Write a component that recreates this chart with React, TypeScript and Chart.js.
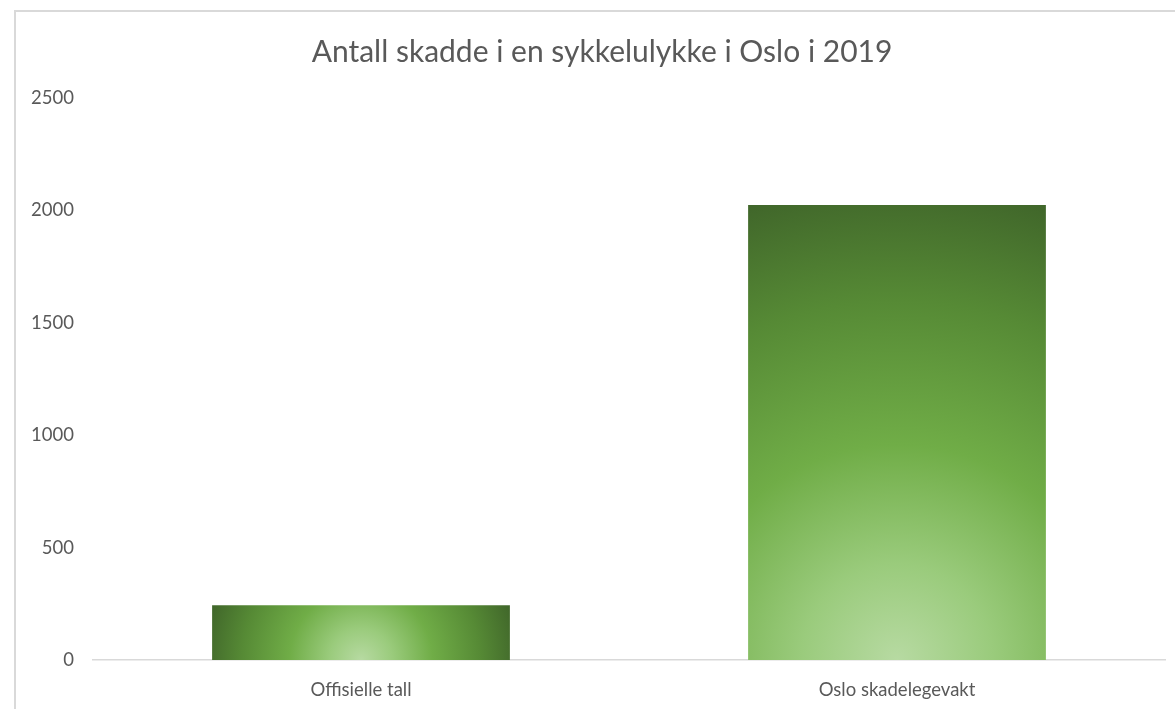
import { useEffect, useRef } from "react";
import { Chart, registerables } from "chart.js";

Chart.register(...registerables);

const chartTitle = "Antall skadde i en sykkelulykke i Oslo i 2019";
const categories = ["Offisielle tall", "Oslo skadelegevakt"];
const values = [243, 2024];
const yMin = 0;
const yMax = 2500;
const yStep = 500;

const TEXT = "#595959";
const LINE = "#d9d9d9";
const FONT = "Lato, 'Open Sans', sans-serif";
const BAR_PCT = 1 / 1.8;
const TICK_SIZE = 18.5;

function barGradient(c: any) {
  const chart = c.chart;
  const xs = chart.scales?.x;
  const ys = chart.scales?.y;
  if (!xs || !ys || c.dataIndex === undefined) return "#70ad47";
  const i = c.dataIndex;
  const v = c.raw as number;
  const cx = xs.getPixelForValue(i);
  const top = ys.getPixelForValue(v);
  const base = ys.getPixelForValue(0);
  const w = (xs.width / categories.length) * BAR_PCT;
  const h = Math.abs(base - top);
  const r = Math.sqrt((w / 2) * (w / 2) + h * h);
  if (![cx, top, base, r].every((n) => Number.isFinite(n)) || r <= 0) return "#70ad47";
  const g = chart.ctx.createRadialGradient(cx, base, 0, cx, base, r);
  g.addColorStop(0, "#b7daa2");
  g.addColorStop(0.2, "#9acb7c");
  g.addColorStop(0.45, "#70ad47");
  g.addColorStop(0.75, "#568a35");
  g.addColorStop(1, "#40662a");
  return g;
}

const titleShift = {
  id: "titleShift",
  afterLayout(chart: any) {
    const t = chart.titleBlock;
    if (t) t.left += 23;
  },
};

export default function App() {
  const ref = useRef<HTMLCanvasElement | null>(null);

  useEffect(() => {
    if (!ref.current) return;
    const chart = new Chart(ref.current, {
      type: "bar",
      data: {
        labels: categories,
        datasets: [
          {
            data: values,
            backgroundColor: barGradient,
            borderWidth: 0,
            categoryPercentage: 1,
            barPercentage: BAR_PCT,
          },
        ],
      },
      plugins: [titleShift],
      options: {
        animation: false,
        responsive: false,
        maintainAspectRatio: false,
        layout: { padding: { left: 0, right: 23, top: 0, bottom: 7.8 } },
        plugins: {
          legend: { display: false },
          tooltip: { enabled: false },
          title: {
            display: true,
            text: chartTitle,
            color: TEXT,
            font: { family: FONT, size: 30, weight: "normal", lineHeight: 1.2 },
            padding: { top: 22, bottom: 28 },
          },
        },
        scales: {
          x: {
            grid: { display: false, drawTicks: false },
            border: { display: true, color: LINE, width: 1.5 },
            ticks: {
              color: TEXT,
              font: { family: FONT, size: TICK_SIZE, lineHeight: 1.2 },
              padding: 19,
            },
            afterFit: (s: any) => {
              s.height = 19 + TICK_SIZE * 1.2;
            },
          },
          y: {
            min: yMin,
            max: yMax,
            grid: { display: false, drawTicks: false },
            border: { display: false },
            ticks: {
              stepSize: yStep,
              color: TEXT,
              font: { family: FONT, size: TICK_SIZE, lineHeight: 1.2 },
              padding: 19,
              callback: (v: any) => String(v),
            },
            afterFit: (s: any) => {
              s.width = 77;
            },
          },
        } as any,
      },
    });
    chart.update();
    return () => chart.destroy();
  }, []);

  return (
    <div
      style={{
        position: "absolute",
        left: 0,
        top: 0,
        width: 1175,
        height: 709,
        overflow: "hidden",
        background: "#fff",
      }}
    >
      <div
        style={{
          position: "absolute",
          left: 14,
          top: 10,
          width: 1200,
          height: 720,
          border: `2px solid ${LINE}`,
          boxSizing: "border-box",
        }}
      />
      <div style={{ position: "absolute", left: 16, top: 12, width: 1172, height: 697 }}>
        <canvas ref={ref} width={1172} height={697} style={{ width: 1172, height: 697 }} />
      </div>
    </div>
  );
}
